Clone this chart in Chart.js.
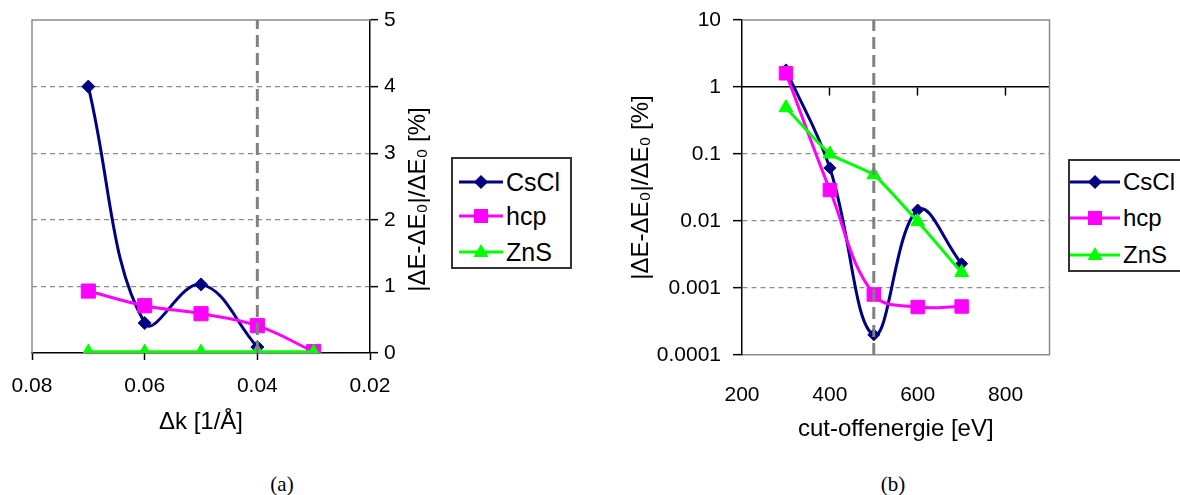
<!DOCTYPE html>
<html><head><meta charset="utf-8">
<script src="https://cdn.jsdelivr.net/npm/chart.js@4.4.0/dist/chart.umd.min.js"></script>
<style>
html,body{margin:0;padding:0;background:#fff;width:1180px;height:495px;overflow:hidden;position:relative;font-family:"Liberation Sans",Arial,sans-serif;color:#000;}
canvas{position:absolute;}
#cA{left:0;top:0;}
#cB{left:590px;top:0;}
.legend{position:absolute;border:2px solid #333;box-sizing:border-box;background:#fff;}
.row{position:absolute;left:0;height:30px;display:flex;align-items:center;white-space:nowrap;}
.row svg{display:block;flex:none;}
.cap{position:absolute;font-family:"Liberation Serif","DejaVu Serif",serif;font-size:21px;transform:translate(-50%,-50%);}
</style></head><body>
<canvas id="cA" width="445" height="445"></canvas>
<canvas id="cB" width="470" height="445"></canvas>
<div id="legA" class="legend" style="left:451px;top:157px;width:121px;height:112px;"></div>
<div id="legB" class="legend" style="left:1068px;top:159px;width:130px;height:113px;"></div>
<div class="cap" style="left:282px;top:484px;">(a)</div>
<div class="cap" style="left:893px;top:484px;">(b)</div>
<script>
// ---------- data ----------
const seriesNames = ['CsCl', 'hcp', 'ZnS'];

// chart (a): error vs k-point spacing
const dkCsCl = [0.07, 0.06, 0.05, 0.04];
const errCsClA = [4.0, 0.45, 1.03, 0.09];
const dkHcp = [0.07, 0.06, 0.05, 0.04, 0.03];
const errHcpA = [0.93, 0.71, 0.59, 0.41, 0.02];
const dkZnS = [0.07, 0.06, 0.05, 0.04, 0.03];
const errZnSA = [0.02, 0.02, 0.02, 0.02, 0.02];
const dkMarker = 0.04;
const xTicksA = [0.02, 0.04, 0.06, 0.08];
const xTickLabelsA = ['0.02', '0.04', '0.06', '0.08'];
const yTicksA = [0, 1, 2, 3, 4, 5];
const yTickLabelsA = ['0', '1', '2', '3', '4', '5'];
const xTitleA = 'Δk [1/Å]';
const yTitleA = '|ΔE-ΔE₀|/ΔE₀ [%]';

// chart (b): error vs cut-off energy
const cutoff = [300, 400, 500, 600, 700];
const errCsClB = [1.8, 0.062, 0.0002, 0.0146, 0.0023];
const errHcpB = [1.6, 0.029, 0.0008, 0.00052, 0.00053];
const errZnSB = [0.49, 0.1, 0.049, 0.0098, 0.0017];
const cutoffMarker = 500;
const xTicksB = [200, 400, 600, 800];
const xTickLabelsB = ['200', '400', '600', '800'];
const yTicksB = [0.0001, 0.001, 0.01, 0.1, 1, 10];
const yTickLabelsB = ['0.0001', '0.001', '0.01', '0.1', '1', '10'];
const xAxisCrossB = 1;
const xTitleB = 'cut-offenergie [eV]';
const yTitleB = '|ΔE-ΔE₀|/ΔE₀ [%]';

// ---------- styles ----------
const FAM = '"Liberation Sans", Arial, sans-serif';
const colors = ['#000080', '#ff00ff', '#00ff00'];
const markers = ['rectRot', 'rect', 'triangle'];
const GRID = '#8c8c8c';

function pts(xs, ys) { return xs.map((x, i) => ({x: x, y: ys[i]})); }
function lineDs(i, xs, ys, rad, tension) {
  return {
    label: seriesNames[i], data: pts(xs, ys),
    borderColor: colors[i], backgroundColor: colors[i],
    pointBackgroundColor: colors[i], pointBorderColor: colors[i],
    pointStyle: markers[i], pointRadius: rad, pointHoverRadius: rad, pointBorderWidth: 1,
    borderWidth: 3, tension: tension, order: 3 - i, xAxisID: 'x', yAxisID: 'y'
  };
}
function markerDs(x, y0, y1) {
  return {label: 'marker', data: [{x: x, y: y0}, {x: x, y: y1}], borderColor: '#808080',
    borderWidth: 3, borderDash: [12, 6], pointRadius: 0, tension: 0, order: 0, xAxisID: 'x', yAxisID: 'y'};
}
function noVPad(s) { s.paddingTop = 0; s.paddingBottom = 0; }

// ---------- chart (a) ----------
const frameA = {id: 'frameA', beforeDatasetsDraw(chart) {
  const {ctx, chartArea: a} = chart;
  ctx.save(); ctx.strokeStyle = GRID; ctx.lineWidth = 1.5;
  ctx.beginPath(); ctx.moveTo(a.left, a.bottom); ctx.lineTo(a.left, a.top); ctx.lineTo(a.right, a.top); ctx.stroke();
  ctx.restore();
}};
const titleA = {id: 'titleA', afterDraw(chart) {
  const {ctx, chartArea: a} = chart;
  ctx.save(); ctx.translate(a.right + 48, (a.top + a.bottom) / 2 + 13); ctx.rotate(-Math.PI / 2);
  ctx.font = '24px ' + FAM; ctx.fillStyle = '#000'; ctx.textAlign = 'center'; ctx.textBaseline = 'middle';
  ctx.fillText(yTitleA, 0, 0); ctx.restore();
}};

new Chart(document.getElementById('cA'), {
  type: 'line',
  data: {datasets: [
    lineDs(0, dkCsCl, errCsClA, 6.5, 0.4),
    lineDs(1, dkHcp, errHcpA, 10, 0.4),
    lineDs(2, dkZnS, errZnSA, 7.5, 0),
    markerDs(dkMarker, yTicksA[0], yTicksA[yTicksA.length - 1])
  ]},
  options: {
    responsive: false, animation: false, devicePixelRatio: 1,
    layout: {padding: {left: 32, top: 20, right: 0, bottom: 0}},
    plugins: {legend: {display: false}, tooltip: {enabled: false}},
    scales: {
      x: {type: 'linear', reverse: true, min: xTicksA[0], max: xTicksA[xTicksA.length - 1], position: 'bottom',
        afterBuildTicks: s => { s.ticks = xTicksA.map(v => ({value: v})); },
        afterFit: s => { s.height = 92; },
        ticks: {callback: (v, i) => xTickLabelsA[i], font: {size: 21, family: FAM}, color: '#000', padding: 14, maxRotation: 0, autoSkip: false},
        grid: {drawOnChartArea: false, drawTicks: true, tickLength: 7, tickColor: '#000', tickWidth: 1.5},
        border: {color: '#000', width: 1.5},
        title: {display: true, text: xTitleA, font: {size: 24, family: FAM}, color: '#000', padding: {top: 0, bottom: 8}}
      },
      y: {type: 'linear', position: 'right', min: yTicksA[0], max: yTicksA[yTicksA.length - 1],
        afterBuildTicks: s => { s.ticks = yTicksA.map(v => ({value: v})); },
        afterFit: s => { s.width = 75; noVPad(s); },
        ticks: {callback: (v, i) => yTickLabelsA[i], font: {size: 21, family: FAM}, color: '#000', padding: 6},
        grid: {color: c => (c.tick && c.tick.value > yTicksA[0] && c.tick.value < yTicksA[yTicksA.length - 1]) ? GRID : 'transparent',
          lineWidth: 1.3, tickColor: '#000', tickLength: 8, tickWidth: 1.5},
        border: {color: '#000', width: 1.5, dash: [5, 4]}
      }
    }
  },
  plugins: [frameA, titleA]
});

// ---------- chart (b) ----------
const frameB = {id: 'frameB', beforeDatasetsDraw(chart) {
  const {ctx, chartArea: a} = chart;
  ctx.save(); ctx.strokeStyle = GRID; ctx.lineWidth = 1.5;
  ctx.beginPath(); ctx.moveTo(a.left, a.top); ctx.lineTo(a.right, a.top); ctx.lineTo(a.right, a.bottom); ctx.stroke();
  ctx.restore();
}};

new Chart(document.getElementById('cB'), {
  type: 'line',
  data: {datasets: [
    lineDs(0, cutoff, errCsClB, 6, 0.4),
    lineDs(1, cutoff, errHcpB, 9.5, 0.4),
    lineDs(2, cutoff, errZnSB, 8, 0.15),
    markerDs(cutoffMarker, yTicksB[0], yTicksB[yTicksB.length - 1])
  ]},
  options: {
    responsive: false, animation: false, devicePixelRatio: 1,
    layout: {padding: {left: 0, top: 20, right: 7, bottom: 0}},
    plugins: {legend: {display: false}, tooltip: {enabled: false}},
    scales: {
      x: {type: 'linear', min: xTicksB[0], max: 900, position: {y: xAxisCrossB},
        afterBuildTicks: s => { s.ticks = xTicksB.slice(1).map(v => ({value: v})); },
        ticks: {display: false},
        grid: {drawOnChartArea: false, drawTicks: true, tickLength: 8, tickColor: '#000', tickWidth: 1.5},
        border: {color: '#000', width: 1.5}
      },
      x2: {type: 'linear', axis: 'x', min: xTicksB[0], max: 900, position: 'bottom',
        afterBuildTicks: s => { s.ticks = xTicksB.map(v => ({value: v})); },
        afterFit: s => { s.height = 90; },
        ticks: {callback: (v, i) => xTickLabelsB[i], font: {size: 21, family: FAM}, color: '#000', padding: 20, maxRotation: 0, autoSkip: false},
        grid: {display: false},
        border: {color: GRID, width: 1.5},
        title: {display: true, text: xTitleB, font: {size: 24, family: FAM}, color: '#000', padding: {top: 0, bottom: 1}}
      },
      y: {type: 'logarithmic', position: 'left', min: yTicksB[0], max: yTicksB[yTicksB.length - 1],
        afterBuildTicks: s => { s.ticks = yTicksB.map(v => ({value: v})); },
        afterFit: s => { s.width = 152; noVPad(s); },
        ticks: {callback: (v, i) => yTickLabelsB[i], font: {size: 21, family: FAM}, color: '#000', padding: 12},
        grid: {color: c => (c.tick && c.tick.value > yTicksB[0] * 1.5 && c.tick.value < xAxisCrossB * 0.5) ? GRID : 'transparent',
          lineWidth: 1.3, tickColor: '#000', tickLength: 9, tickWidth: 1.5},
        border: {color: '#000', width: 1.5, dash: [5, 4]},
        title: {display: true, text: yTitleB, font: {size: 24, family: FAM}, color: '#000', padding: {top: 37, bottom: 0}}
      }
    }
  },
  plugins: [frameB]
});

// ---------- HTML legends ----------
function swatch(i, w) {
  const c = colors[i], m = w / 2, y = 15;
  let shape = '';
  if (i === 0) shape = `<polygon points="${m-7},${y} ${m},${y-7} ${m+7},${y} ${m},${y+7}" fill="${c}"/>`;
  else if (i === 1) shape = `<rect x="${m-7}" y="${y-7}" width="14" height="14" fill="${c}"/>`;
  else shape = `<polygon points="${m},${y-8} ${m+7.5},${y+5} ${m-7.5},${y+5}" fill="${c}"/>`;
  return `<svg width="${w}" height="30"><line x1="0" y1="${y}" x2="${w}" y2="${y}" stroke="${c}" stroke-width="3"/>${shape}</svg>`;
}
function buildLegend(id, left, w, tops, fs) {
  const el = document.getElementById(id);
  seriesNames.forEach((n, i) => {
    const r = document.createElement('div');
    r.className = 'row';
    r.style.top = tops[i] + 'px';
    r.style.left = left + 'px';
    r.innerHTML = swatch(i, w) + `<span style="margin-left:3px;font-size:${fs}px;line-height:30px;">${n}</span>`;
    el.appendChild(r);
  });
}
buildLegend('legA', 6, 44, [8, 42, 78], 25);
buildLegend('legB', 0, 50, [6, 42, 79], 24);
</script>
</body></html>
